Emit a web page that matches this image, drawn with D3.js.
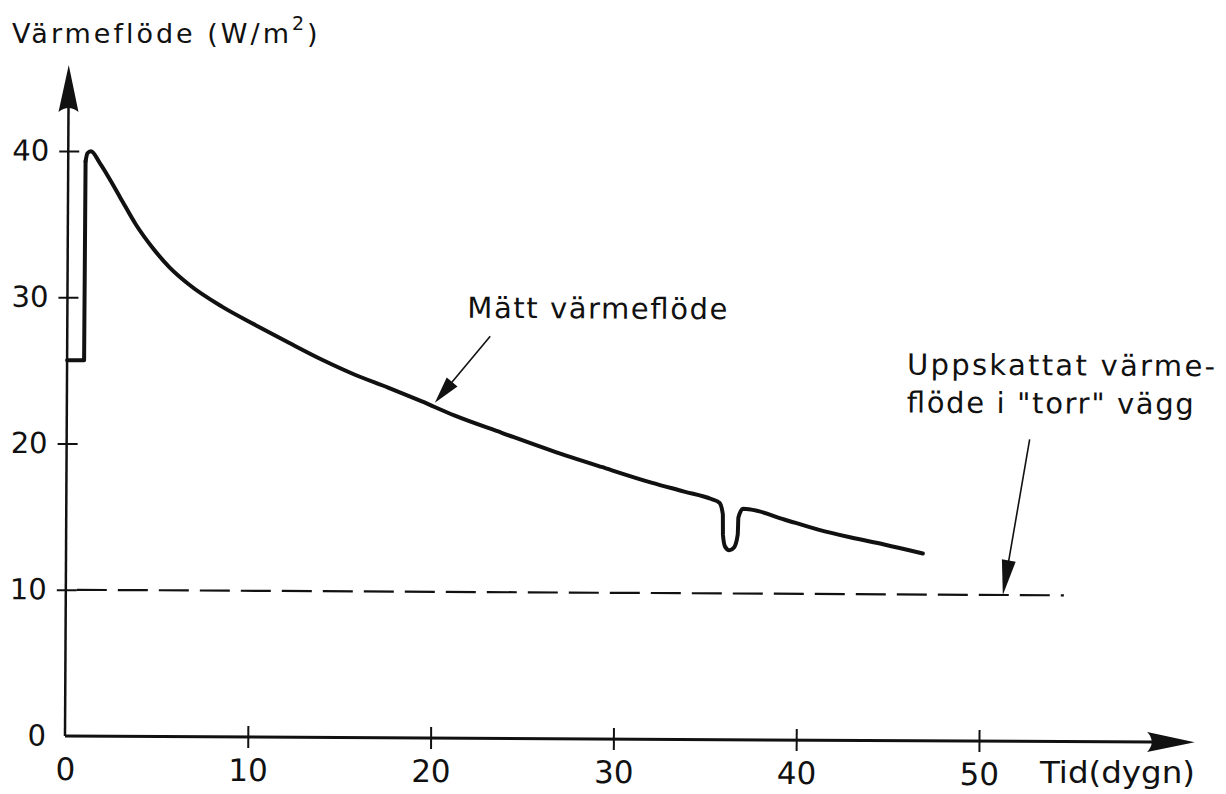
<!DOCTYPE html>
<html>
<head>
<meta charset="utf-8">
<script src="https://cdn.jsdelivr.net/npm/d3@7"></script>
<style>
  html, body { margin: 0; padding: 0; background: #fff; }
  svg { display: block; }
  text { font-family: "DejaVu Sans", sans-serif; fill: #111; }
</style>
</head>
<body>
<svg id="chart" width="1226" height="794"></svg>
<script>
// ---- Data ----
const xTicks = [0, 10, 20, 30, 40, 50];
const yTicks = [0, 10, 20, 30, 40];

// Measured heat flux (Mätt värmeflöde), days vs W/m2
const measDays = [0, 0.93, 0.95, 1.05, 1.24, 1.73, 2.83, 3.72, 4.65, 5.56, 6.66, 8.48, 10.28, 12.13, 13.95, 15.75, 17.6, 19.42, 21.23, 23.8, 26.53, 29.27, 32.0, 33.8, 35.28, 35.73, 35.92, 35.93, 36.05, 36.29, 36.54, 36.74, 36.77, 37.02, 37.47, 39.28, 41.14, 42.94, 44.75, 46.87];
const measFlux = [25.7, 25.7, 39.3, 39.85, 40.0, 39.19, 36.9, 35.0, 33.4, 32.1, 30.9, 29.4, 28.18, 26.97, 25.82, 24.81, 23.93, 23.01, 22.05, 20.9, 19.7, 18.6, 17.55, 16.95, 16.45, 16.2, 15.39, 14.02, 13.2, 12.95, 13.14, 14.03, 15.19, 15.79, 15.74, 15.08, 14.4, 13.87, 13.41, 12.81];

// Estimated heat flux in "dry" wall
const dryDays = [0, 54.6];
const dryFlux = [10, 10];

// ---- Layout ----
const svg = d3.select("#chart");
const x = d3.scaleLinear().domain([0, 50]).range([65, 979]);
const y = d3.scaleLinear().domain([0, 40]).range([736, 151]);

svg.append("text")
  .attr("x", 12).attr("y", 43)
  .style("font-size", "27px").style("letter-spacing", "3px")
  .call(t => {
    t.append("tspan").text("Värmeflöde (W/m");
    t.append("tspan").attr("dy", -13).style("font-size", "19px").text("2");
    t.append("tspan").attr("dy", 13).text(")");
  });

svg.append("text").attr("x", 1040).attr("y", 783)
  .attr("textLength", 155).attr("lengthAdjust", "spacingAndGlyphs")
  .style("font-size", "30px").text("Tid(dygn)");

// slight scan rotation of the drawing
const g = svg.append("g").attr("transform", `rotate(0.32, ${x(0)}, ${y(0)})`);

// axes lines with arrows
g.append("line").attr("x1", x(0)).attr("y1", y(0)).attr("x2", x(0)).attr("y2", y(43))
  .attr("stroke", "#111").attr("stroke-width", 2.5);
g.append("path")
  .attr("d", `M${x(0) - 10},${y(42.67)} L${x(0)},${y(45.88)} L${x(0) + 10},${y(42.67)} Q${x(0)},${y(43.2)} ${x(0) - 10},${y(42.67)}Z`)
  .attr("fill", "#111");
g.append("line").attr("x1", x(0)).attr("y1", y(0)).attr("x2", x(59.5)).attr("y2", y(0))
  .attr("stroke", "#111").attr("stroke-width", 3);
g.append("path")
  .attr("d", `M${x(59.2)},${y(0) - 10} L${x(61.8)},${y(0)} L${x(59.2)},${y(0) + 10} Q${x(59.7)},${y(0)} ${x(59.2)},${y(0) - 10}Z`)
  .attr("fill", "#111");

// Y axis ticks/labels
const gy = g.append("g").attr("transform", `translate(${x(0)},0)`)
  .call(d3.axisLeft(y).tickValues(yTicks).tickSizeInner(9).tickSizeOuter(0).tickPadding(10).tickFormat(d3.format("d")));
gy.select(".domain").remove();
gy.selectAll(".tick line").attr("x1", 11).attr("stroke", "#111").attr("stroke-width", 2)
  .filter(d => d === 0).remove();
gy.selectAll(".tick text").style("font-size", "29px").attr("font-family", null).attr("fill", "#111");

// X axis ticks/labels
const gx = g.append("g").attr("transform", `translate(0,${y(0)})`)
  .call(d3.axisBottom(x).tickValues(xTicks).tickSizeInner(11).tickSizeOuter(0).tickPadding(11).tickFormat(d3.format("d")));
gx.select(".domain").remove();
gx.selectAll(".tick line").attr("y1", -11).attr("stroke", "#111").attr("stroke-width", 2)
  .filter(d => d === 0).remove();
gx.selectAll(".tick text").style("font-size", "31px").attr("font-family", null).attr("fill", "#111");

// dashed estimated line
const dryData = dryDays.map((d, i) => [d, dryFlux[i]]);
g.append("path").datum(dryData)
  .attr("d", d3.line().x(d => x(d[0])).y(d => y(d[1])))
  .attr("fill", "none").attr("stroke", "#111").attr("stroke-width", 2.2)
  .attr("stroke-dasharray", "30 11").attr("stroke-dashoffset", 30);

// measured line: step part straight, decay part smooth
const measData = measDays.map((d, i) => [d, measFlux[i]]);
const lineStyle = sel => sel.attr("fill", "none").attr("stroke", "#111").attr("stroke-width", 4)
  .attr("stroke-linejoin", "round").attr("stroke-linecap", "round");
g.append("path").datum(measData.slice(0, 3))
  .attr("d", d3.line().x(d => x(d[0])).y(d => y(d[1])))
  .call(lineStyle);
g.append("path").datum(measData.slice(2))
  .attr("d", d3.line().x(d => x(d[0])).y(d => y(d[1])).curve(d3.curveMonotoneX))
  .call(lineStyle);

// annotation arrows
function arrow(x1, y1, x2, y2, len, hw) {
  const dx = x2 - x1, dy = y2 - y1, L = Math.hypot(dx, dy);
  const ux = dx / L, uy = dy / L;
  const bx = x2 - ux * len, by = y2 - uy * len;
  g.append("line").attr("x1", x1).attr("y1", y1).attr("x2", bx + ux * 2).attr("y2", by + uy * 2)
    .attr("stroke", "#111").attr("stroke-width", 1.6);
  g.append("path")
    .attr("d", `M${x2},${y2} L${bx - uy * hw},${by + ux * hw} L${bx + uy * hw},${by - ux * hw}Z`)
    .attr("fill", "#111");
}
arrow(x(23.14), y(27.5), x(20.13), y(22.93), 27, 7);
arrow(x(52.68), y(20.65), x(51.26), y(10.0), 35, 7);

// annotation texts
g.append("text").attr("x", x(21.88)).attr("y", y(28.75))
  .attr("textLength", 260).attr("lengthAdjust", "spacing")
  .style("font-size", "29px").text("Mätt värmeflöde");
g.append("text").attr("x", x(45.95)).attr("y", y(25.04))
  .attr("textLength", 308).attr("lengthAdjust", "spacing")
  .style("font-size", "29px").text("Uppskattat värme-");
g.append("text").attr("x", x(45.95)).attr("y", y(22.44))
  .attr("textLength", 287).attr("lengthAdjust", "spacing")
  .style("font-size", "29px").text("flöde i \"torr\" vägg");
</script>
</body>
</html>
